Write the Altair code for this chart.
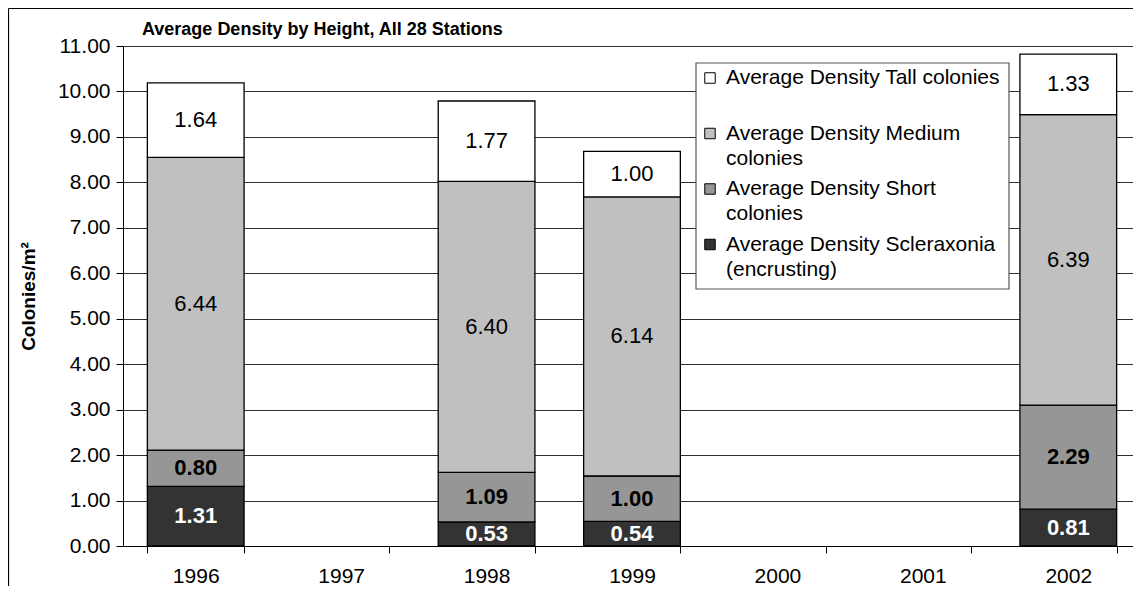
import altair as alt
import pandas as pd

# ---- data ----
years = ["1996", "1997", "1998", "1999", "2000", "2001", "2002"]
data_years = ["1996", "1998", "1999", "2002"]
series = [
    "Average Density Scleraxonia (encrusting)",
    "Average Density Short colonies",
    "Average Density Medium colonies",
    "Average Density Tall colonies",
]
scleraxonia = [1.31, 0.53, 0.54, 0.81]
short = [0.80, 1.09, 1.00, 2.29]
medium = [6.44, 6.40, 6.14, 6.39]
tall = [1.64, 1.77, 1.00, 1.33]
colors = ["#333333", "#969696", "#C0C0C0", "#FFFFFF"]
y_ticks = [0, 1, 2, 3, 4, 5, 6, 7, 8, 9, 10, 11]
legend_order = [3, 2, 1, 0]
legend_line1 = ["Average Density Tall colonies", "Average Density Medium",
                "Average Density Short", "Average Density Scleraxonia"]
legend_line2 = ["", "colonies", "colonies", "(encrusting)"]
chart_title = "Average Density by Height, All 28 Stations"

FONT = "Liberation Sans"

rows = []
for i, vals in enumerate([scleraxonia, short, medium, tall]):
    for yr, v in zip(data_years, vals):
        rows.append({"year": yr, "series": series[i], "order": i, "value": v})
df = pd.DataFrame(rows)

leg = pd.DataFrame({
    "series": [series[k] for k in legend_order],
    "idx": list(range(4)),
    "line1": legend_line1,
    "line2": legend_line2,
})

x_scale = alt.Scale(domain=years, paddingInner=0.335, paddingOuter=0.1675, range=[0, 1018])
y_scale = alt.Scale(domain=[0, 11], nice=False)

x_enc = alt.X(
    "year:N",
    title=None,
    scale=x_scale,
    axis=alt.Axis(labelAngle=0, labelFont=FONT, labelFontSize=21, labelColor="black",
                  labelPadding=12, tickBand="extent", tickSize=7, tickColor="black",
                  domainColor="black", grid=False),
)

base = alt.Chart(df).transform_stack(
    stack="value", groupby=["year"], as_=["v0", "v1"], sort=[alt.SortField("order")]
).transform_calculate(mid="(datum.v0 + datum.v1) / 2")

bars = base.mark_bar(stroke="black", strokeWidth=1.3).encode(
    x=x_enc,
    y=alt.Y("v0:Q", scale=y_scale, title="Colonies/m²",
            axis=alt.Axis(values=y_ticks, format=".2f", labelFont=FONT, labelFontSize=21,
                          labelColor="black", labelPadding=6, tickSize=7, tickColor="black",
                          domainColor="black", grid=True, gridColor="#303030",
                          titleFont=FONT, titleFontSize=19, titleFontWeight="bold",
                          titleColor="black", titlePadding=19)),
    y2="v1:Q",
    color=alt.Color("series:N", scale=alt.Scale(domain=series, range=colors), legend=None),
)

labels_bold = base.transform_filter("datum.order < 2").mark_text(
    font=FONT, fontSize=22, fontWeight="bold", baseline="middle"
).encode(
    x=alt.X("year:N", scale=x_scale),
    y=alt.Y("mid:Q", scale=y_scale),
    text=alt.Text("value:Q", format=".2f"),
    color=alt.condition("datum.order == 0", alt.value("white"), alt.value("black")),
)

labels_norm = base.transform_filter("datum.order >= 2").mark_text(
    font=FONT, fontSize=22, baseline="middle", color="black"
).encode(
    x=alt.X("year:N", scale=x_scale),
    y=alt.Y("mid:Q", scale=y_scale),
    text=alt.Text("value:Q", format=".2f"),
)

one = pd.DataFrame({"a": [0]})

frame_left = alt.Chart(one).mark_rule(color="black", strokeWidth=1.2).encode(
    x=alt.value(-114.5), y=alt.value(-37.5), y2=alt.value(545)
)
frame_top = alt.Chart(one).mark_rule(color="black", strokeWidth=1.2).encode(
    x=alt.value(-114.5), x2=alt.value(1010), y=alt.value(-37.5)
)

title_text = alt.Chart(pd.DataFrame({"t": [chart_title]})).mark_text(
    font=FONT, fontSize=18, fontWeight="bold", align="left", baseline="alphabetic",
    color="black"
).encode(x=alt.value(19), y=alt.value(-11.5), text="t:N")

leg_box = alt.Chart(one).mark_rect(fill="white", stroke="#555555", strokeWidth=1.2).encode(
    x=alt.value(573), x2=alt.value(886), y=alt.value(17), y2=alt.value(243)
)

leg_base = alt.Chart(leg).transform_calculate(
    ly="32 + datum.idx * 55.5", ly2="32 + datum.idx * 55.5 + 25"
)
leg_sym = leg_base.mark_square(size=110, stroke="black", strokeWidth=1, opacity=1).encode(
    x=alt.value(587),
    y=alt.Y("ly:Q", scale=None),
    fill=alt.Fill("series:N", scale=alt.Scale(domain=series, range=colors), legend=None),
)
leg_t1 = leg_base.mark_text(font=FONT, fontSize=21, align="left", baseline="middle",
                            color="black").encode(
    x=alt.value(603), y=alt.Y("ly:Q", scale=None), text="line1:N"
)
leg_t2 = leg_base.mark_text(font=FONT, fontSize=21, align="left", baseline="middle",
                            color="black").encode(
    x=alt.value(603), y=alt.Y("ly2:Q", scale=None), text="line2:N"
)

chart = alt.layer(
    bars, labels_bold, labels_norm, frame_left, frame_top, title_text,
    leg_box, leg_sym, leg_t1, leg_t2
).resolve_scale(color="independent").properties(
    width=1010,
    height=500,
    autosize=alt.AutoSizeParams(type="none"),
    padding={"left": 115, "top": 38, "right": 0, "bottom": 40},
).configure_view(strokeWidth=0)

chart.save("out.html", embed_options={"renderer": "svg", "actions": False})
